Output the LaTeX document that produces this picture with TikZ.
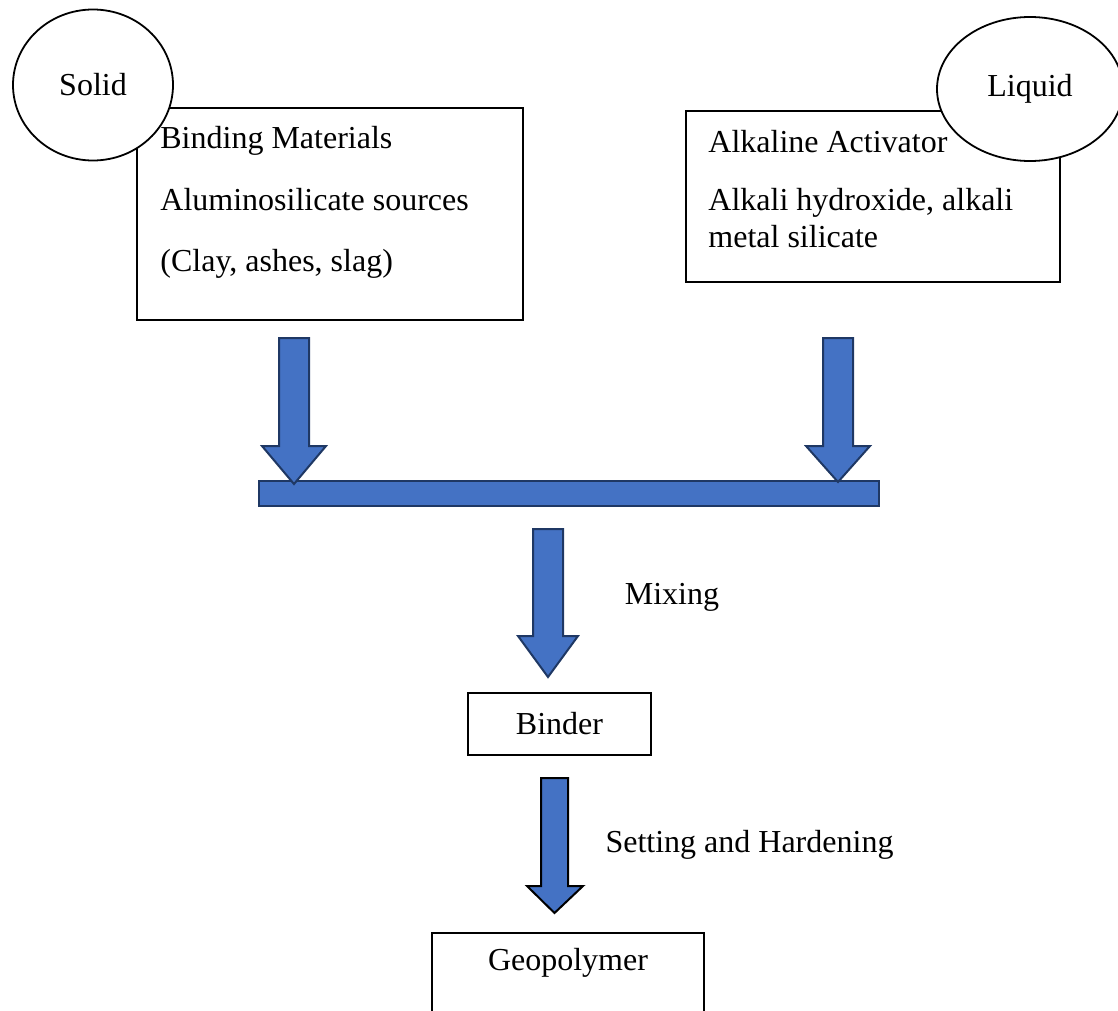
\documentclass[tikz,border=0pt]{standalone}
\usepackage{fontspec}
\setmainfont{Liberation Serif}
\usetikzlibrary{positioning, shapes.geometric}
\definecolor{blockfill}{HTML}{4472C4}
\definecolor{blockline}{HTML}{1F3864}
\tikzset{
  panel/.style={draw, rectangle, line width=0.9pt, inner sep=0pt},
  phase/.style={draw, ellipse, line width=0.9pt, fill=white, inner sep=0pt},
  boxtext/.style={align=left, inner sep=0pt, anchor=north west},
  blockarrow/.style={draw=blockline, fill=blockfill, line width=1pt, line join=miter},
}

\begin{document}
\begin{tikzpicture}[x=0.5pt, y=-0.5pt, font=\fontsize{16}{18.4}\selectfont]
\clip (0,0) rectangle (1118,1011);
% input boxes
\node[panel, minimum width=193pt, minimum height=106pt] (binding) at (330,214) {};
\node[panel, minimum width=187pt, minimum height=85.5pt] (activator) at (873,196.5) {};
% phase labels
\node[phase, minimum width=80pt, minimum height=75.5pt] (solid) at (93,85) {Solid};
\node[phase, minimum width=93pt, minimum height=72pt] (liquid) at (1030,89) {Liquid};
% box texts
\node[boxtext] (bindingtext) at (160,126) {Binding Materials\\[12.3pt] Aluminosilicate sources\\[12.3pt] (Clay, ashes, slag)};
\node[boxtext] (activatortext) at (708,130) {Alkaline Activator\\[10.6pt] Alkali hydroxide, alkali\\ metal silicate};
% mixing bar and feed arrows
\node[blockarrow, minimum width=310pt, minimum height=12.5pt, inner sep=0pt] (mixbar) at (569,493.5) {};
\foreach \cx/\tip in {294/484, 838/482}
  \draw[blockarrow] (\cx-15,338) -- (\cx+15,338) -- (\cx+15,446) -- (\cx+32,446) -- (\cx,\tip) -- (\cx-32,446) -- (\cx-15,446) -- cycle;
% process steps
\draw[blockarrow] (533,529) -- (563,529) -- (563,636) -- (578,636) -- (548,677) -- (518,636) -- (533,636) -- cycle;
\node (mixing) at (672,597) {Mixing};
\node[panel, minimum width=91.5pt, minimum height=31pt] (binder) at (559.5,724) {Binder};
\draw[blockarrow, draw=black] (541,778) -- (568,778) -- (568,886) -- (583,886) -- (554.5,913) -- (527,886) -- (541,886) -- cycle;
\node (setting) at (749.5,845) {Setting and Hardening};
\node[panel, minimum width=136pt, minimum height=60pt, anchor=north] (geobox) at (568,932) {};
\node (geopolymer) at (568,963) {Geopolymer};
\end{tikzpicture}
\end{document}
